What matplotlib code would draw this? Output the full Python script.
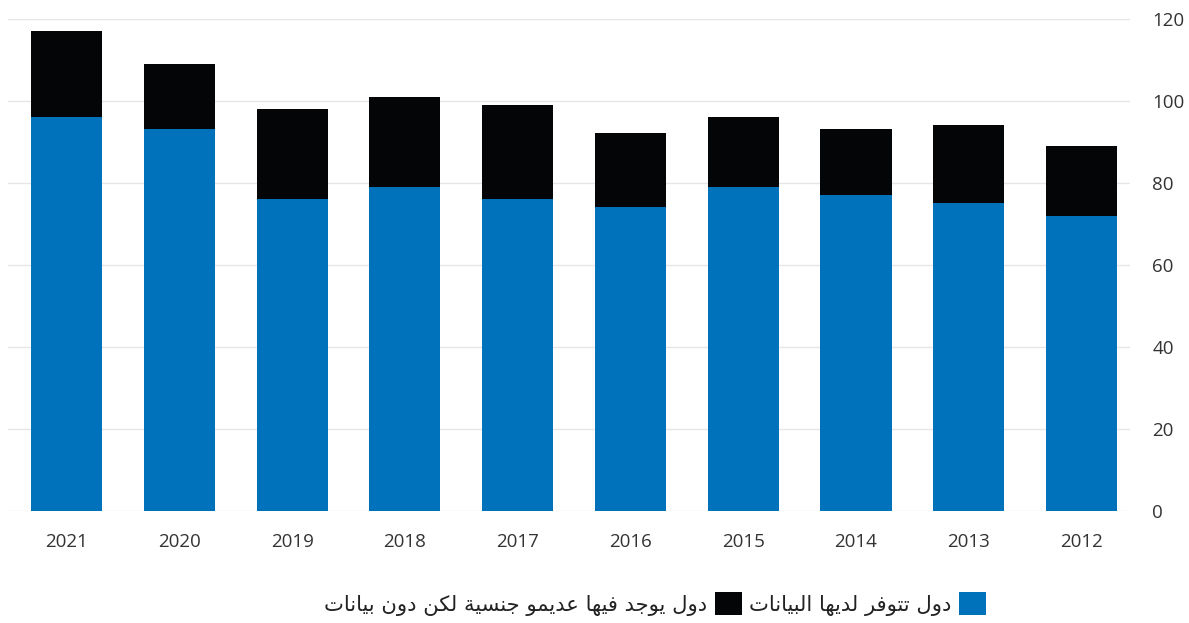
import matplotlib
matplotlib.use("Agg")
import matplotlib.pyplot as plt
from matplotlib.patches import Patch
import numpy as np

# Data
years = ["2021", "2020", "2019", "2018", "2017", "2016", "2015", "2014", "2013", "2012"]
with_data = [96, 93, 76, 79, 76, 74, 79, 77, 75, 72]
totals = [117, 109, 98, 101, 99, 92, 96, 93, 94, 89]
without_data = [t - w for t, w in zip(totals, with_data)]
y_ticks = [0, 20, 40, 60, 80, 100, 120]

label_with = "دول تتوفر لديها البيانات"
label_without = "دول يوجد فيها عديمو جنسية لكن دون بيانات"

BLUE = "#0072BC"
BLACK = "#030506"
TEXT = "#333333"

# matplotlib does no Arabic shaping, so pick presentation forms by hand
# (isolated, final, initial, medial)
FORMS = {
    "\u0627": ("\uFE8D", "\uFE8E", None, None),
    "\u0628": ("\uFE8F", "\uFE90", "\uFE91", "\uFE92"),
    "\u0629": ("\uFE93", "\uFE94", None, None),
    "\u062A": ("\uFE95", "\uFE96", "\uFE97", "\uFE98"),
    "\u062C": ("\uFE9D", "\uFE9E", "\uFE9F", "\uFEA0"),
    "\u062F": ("\uFEA9", "\uFEAA", None, None),
    "\u0631": ("\uFEAD", "\uFEAE", None, None),
    "\u0633": ("\uFEB1", "\uFEB2", "\uFEB3", "\uFEB4"),
    "\u0639": ("\uFEC9", "\uFECA", "\uFECB", "\uFECC"),
    "\u0641": ("\uFED1", "\uFED2", "\uFED3", "\uFED4"),
    "\u0643": ("\uFED9", "\uFEDA", "\uFEDB", "\uFEDC"),
    "\u0644": ("\uFEDD", "\uFEDE", "\uFEDF", "\uFEE0"),
    "\u0645": ("\uFEE1", "\uFEE2", "\uFEE3", "\uFEE4"),
    "\u0646": ("\uFEE5", "\uFEE6", "\uFEE7", "\uFEE8"),
    "\u0647": ("\uFEE9", "\uFEEA", "\uFEEB", "\uFEEC"),
    "\u0648": ("\uFEED", "\uFEEE", None, None),
    "\u064A": ("\uFEF1", "\uFEF2", "\uFEF3", "\uFEF4"),
}


def shape(text):
    out = []
    for i, c in enumerate(text):
        if c not in FORMS:
            out.append(c)
            continue
        prev = text[i - 1] if i > 0 else None
        nxt = text[i + 1] if i + 1 < len(text) else None
        join_prev = prev in FORMS and FORMS[prev][2] is not None
        join_next = nxt in FORMS and FORMS[c][2] is not None
        iso, fin, ini, med = FORMS[c]
        if join_prev and join_next:
            out.append(med)
        elif join_prev:
            out.append(fin)
        elif join_next:
            out.append(ini)
        else:
            out.append(iso)
    return "".join(reversed(out))


plt.rcParams["font.family"] = ["Open Sans", "DejaVu Sans"]

fig = plt.figure(figsize=(11.89, 6.23), dpi=100)
ax = fig.add_axes([8 / 1189, 1 - 511 / 623, (1130 - 8) / 1189, (511 - 18.6) / 623])

x = np.arange(len(years))
ax.bar(x, with_data, width=0.63, color=BLUE, zorder=3)
ax.bar(x, without_data, bottom=with_data, width=0.63, color=BLACK, zorder=3)

ax.set_xlim(-0.52, 9.43)
ax.set_ylim(0, 120)
ax.set_yticks(y_ticks)
ax.set_xticks(x)
ax.set_xticklabels(years)
ax.yaxis.tick_right()
ax.tick_params(axis="y", length=0, pad=16, labelsize=13.5, labelcolor=TEXT)
ax.tick_params(axis="x", length=0, pad=15.5, labelsize=13.5, labelcolor=TEXT)
for lab in ax.get_yticklabels():
    lab.set_horizontalalignment("left")

ax.grid(axis="y", color="#e6e6e6", linewidth=1, zorder=0)
for s in ax.spines.values():
    s.set_visible(False)

handles = [Patch(facecolor=BLACK), Patch(facecolor=BLUE)]
labels = [shape(label_without), shape(label_with)]
fig.legend(handles, labels, ncol=2, markerfirst=False, frameon=False,
           loc="center right", bbox_to_anchor=(986 / 1189, 1 - 604 / 623),
           prop={"family": "DejaVu Sans", "size": 15.2}, labelcolor="#222222",
           handlelength=1.28, handleheight=1.28, handletextpad=0.38,
           columnspacing=0.3, borderpad=0, borderaxespad=0)

fig.savefig("out.png", dpi=100)
